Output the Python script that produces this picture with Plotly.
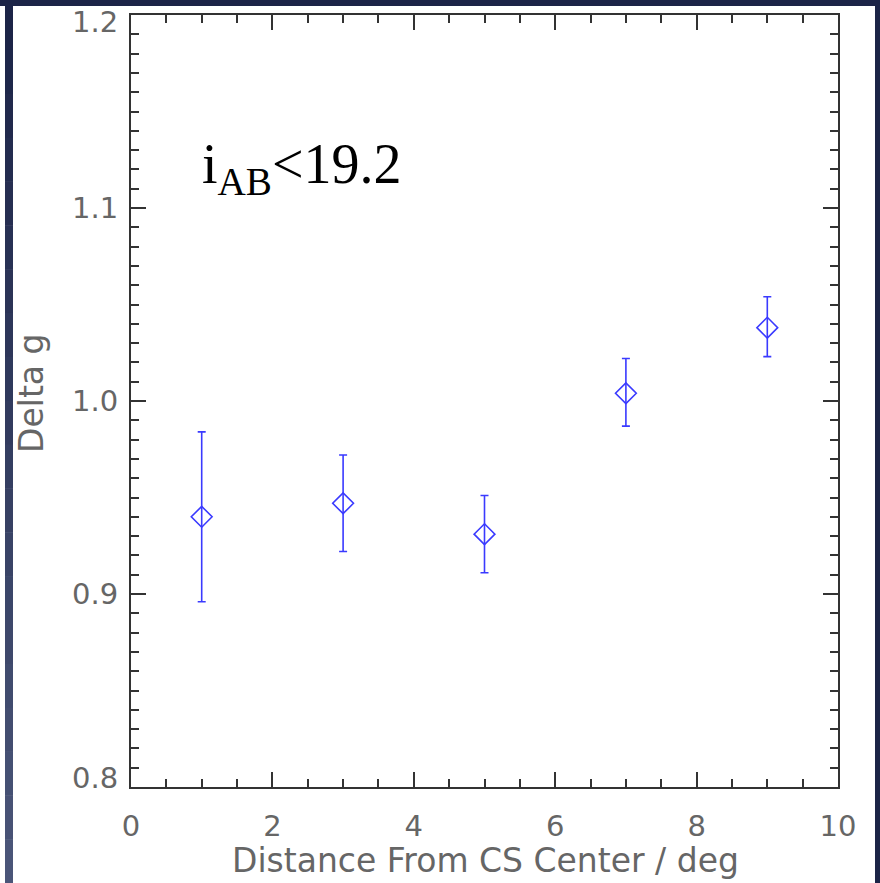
import plotly.graph_objects as go

distance = [1, 3, 5, 7, 9]
delta_g = [0.940, 0.947, 0.931, 1.004, 1.038]
err_plus = [0.044, 0.025, 0.020, 0.018, 0.016]
err_minus = [0.044, 0.025, 0.020, 0.017, 0.015]
x_ticks = [0, 2, 4, 6, 8, 10]
y_ticks = [0.8, 0.9, 1.0, 1.1, 1.2]
y_tick_text = ["0.8", "0.9", "1.0", "1.1", "1.2"]

W, H = 880, 883
L, R, T, B = 131, 42, 15, 96
pw, ph = W - L - R, H - T - B

def px(x):
    return (x - L) / pw

def py(y):
    return (H - B - y) / ph

blue = "#3a3aff"
label_col = "#666666"
fig = go.Figure()
fig.add_trace(go.Scatter(
    x=distance, y=delta_g, mode="markers",
    marker=dict(symbol="diamond-open", size=16, color=blue, line=dict(width=1.6, color=blue)),
    error_y=dict(type="data", symmetric=False, array=err_plus, arrayminus=err_minus,
                 color=blue, thickness=1.6, width=4),
    showlegend=False,
))

axis_common = dict(
    showline=True, linecolor="#333333", linewidth=2, mirror="allticks",
    ticks="inside", ticklen=15, tickwidth=1.5, tickcolor="#333333",
    showgrid=False, zeroline=False,
    tickfont=dict(family="DejaVu Sans", size=29, color=label_col),
)
fig.update_xaxes(range=[0, 10], tickvals=x_ticks, ticklabelstandoff=12,
                 minor=dict(dtick=0.5, ticks="inside", ticklen=8, tickwidth=1.5, tickcolor="#333333"),
                 **axis_common)
fig.update_yaxes(range=[0.8, 1.2], tickvals=y_ticks, showticklabels=False,
                 minor=dict(dtick=0.01, ticks="inside", ticklen=8, tickwidth=1.5, tickcolor="#333333"),
                 **axis_common)

shapes = []
navy = "#1c2447"
shapes.append(dict(type="rect", xref="paper", yref="paper", x0=px(0), x1=px(W), y0=py(6), y1=py(0),
                   fillcolor=navy, line_width=0, layer="above"))
shapes.append(dict(type="rect", xref="paper", yref="paper", x0=px(875), x1=px(W), y0=py(H), y1=py(0),
                   fillcolor=navy, line_width=0, layer="above"))
n = 20
c0 = (28, 36, 71)
c1 = (74, 85, 120)
for i in range(n):
    t = i / (n - 1)
    col = "rgb(%d,%d,%d)" % tuple(int(round(a + (b - a) * t)) for a, b in zip(c0, c1))
    y0 = 6 + (H - 6) * i / n
    y1 = 6 + (H - 6) * (i + 1) / n
    shapes.append(dict(type="rect", xref="paper", yref="paper", x0=px(5), x1=px(13),
                       y0=py(y1 + 0.5), y1=py(y0), fillcolor=col, line_width=0, layer="above"))

annotations = [
    dict(text="i<sub>AB</sub><19.2", x=px(200), y=py(168), xref="paper", yref="paper",
         xanchor="left", yanchor="middle", showarrow=False,
         font=dict(family="Liberation Serif", size=56, color="black")),
    dict(text="Distance From CS Center / deg", x=px(485), y=py(861), xref="paper", yref="paper",
         xanchor="center", yanchor="middle", showarrow=False,
         font=dict(family="DejaVu Sans", size=33, color=label_col)),
    dict(text="Delta g", x=px(31), y=py(394), xref="paper", yref="paper", textangle=-90,
         xanchor="center", yanchor="middle", showarrow=False,
         font=dict(family="DejaVu Sans", size=33, color=label_col)),
]
shifts = {0.8: 9, 1.2: -7}
for v, txt in zip(y_ticks, y_tick_text):
    annotations.append(dict(text=txt, x=0, y=v, xref="paper", yref="y", xanchor="right",
                            yanchor="middle", xshift=-11, yshift=shifts.get(v, 0), showarrow=False,
                            font=dict(family="DejaVu Sans", size=29, color=label_col)))

fig.update_layout(
    width=W, height=H, margin=dict(l=L, r=R, t=T, b=B),
    paper_bgcolor="white", plot_bgcolor="white",
    shapes=shapes, annotations=annotations,
)
fig.write_html("out.html")
